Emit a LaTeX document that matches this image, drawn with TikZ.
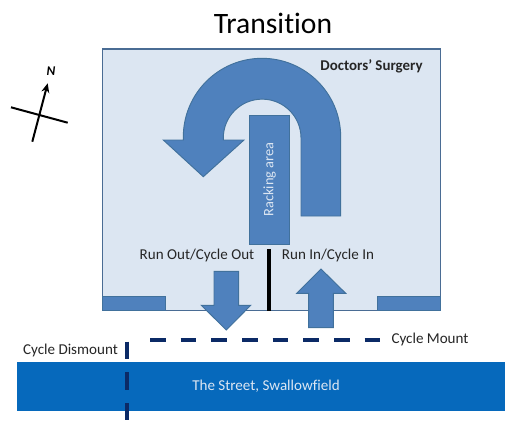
\documentclass[tikz,border=0pt]{standalone}
\usepackage{fontspec}
\setmainfont{Carlito}[Ligatures=NoCommon]
\usetikzlibrary{arrows.meta}
\definecolor{blockfill}{HTML}{4F81BD}
\definecolor{blockline}{HTML}{41719C}
\definecolor{roomfill}{HTML}{DCE6F2}
\definecolor{roomline}{HTML}{4A6C94}
\definecolor{streetblue}{HTML}{0669BC}
\definecolor{dashblue}{HTML}{0B2A66}
\definecolor{labeltext}{HTML}{262626}
\tikzset{
  block/.style={fill=blockfill,draw=blockline,line width=0.7pt,line join=miter},
  room/.style={fill=roomfill,draw=roomline,line width=1.1pt},
  label text/.style={font=\fontsize{11.3}{13}\selectfont,text=labeltext,inner sep=0pt},
  mount dash/.style={draw=dashblue,line width=2.8pt,dash pattern=on 11.7pt off 11.3pt},
  dismount dash/.style={draw=dashblue,line width=2.8pt,dash pattern=on 13pt off 10pt},
  compass/.style={draw=black,line width=1.5pt}
}
\begin{document}
\begin{tikzpicture}[x=0.75pt,y=-0.75pt]
\useasboundingbox[fill=white] (0,0) rectangle (505,425);
% title
\node[font=\fontsize{22.2}{26}\selectfont,text=black,inner sep=0pt] (title) at (273,23.5) {Transition};
% building
\draw[room] (102.7,49) rectangle (440.7,310.7);
\draw[block] (102.7,310.7) -- (102.7,296.3) -- (165,296.3) -- (165,310.7) -- cycle;
\draw[block] (377.7,310.7) -- (377.7,296.3) -- (440.7,296.3) -- (440.7,310.7) -- cycle;
\node[font=\fontsize{11.2}{13}\selectfont\bfseries,text=labeltext,inner sep=0pt] (surgery) at (371.5,66.5) {Doctors’ Surgery};
% U-turn arrow
\draw[block] (340.7,216) -- (340.7,137)
  arc[start angle=0,end angle=-180,x radius=78.7,y radius=78.7]
  -- (183.3,140) -- (163.3,140) -- (203.3,176.7) -- (244,140) -- (223.3,140) -- (223.3,138)
  arc[start angle=180,end angle=360,x radius=38.85,y radius=38.85]
  -- (301,216) -- cycle;
% racking
\node[block,minimum width=39.7*0.75pt,minimum height=128.7*0.75pt,inner sep=0pt] (rack) at (269.2,179.7) {};
\node[font=\fontsize{10.8}{12}\selectfont,text=roomfill,rotate=90,inner sep=0pt] (racklabel) at (269.5,179.5) {Racking area};
% divider
\coordinate (divtop) at (268.7,249.3);
\coordinate (divbot) at (268.7,311);
\draw[black,line width=3pt] (divtop) -- (divbot);
% run arrows
\draw[block] (214,271.3) -- (238.7,271.3) -- (238.7,305.3) -- (250.7,305.3) -- (226.3,330) -- (201.3,305.3) -- (214,305.3) -- cycle;
\draw[block] (308.7,327.7) -- (333.3,327.7) -- (333.3,293.3) -- (345.7,293.3) -- (321,269) -- (296.7,293.3) -- (308.7,293.3) -- cycle;
\node[label text] (runout) at (197,255.5) {Run Out/Cycle Out};
\node[label text] (runin) at (328,255.5) {Run In/Cycle In};
% street
\node[fill=streetblue,minimum width=488.3*0.75pt,minimum height=49*0.75pt,inner sep=0pt] (street) at (260.85,386.8) {};
\node[font=\fontsize{11.3}{13}\selectfont,text=roomfill,inner sep=0pt] (streetlabel) at (266,386.5) {The Street, Swallowfield};
% dashes
\coordinate (ms) at (150,339.7);
\coordinate (me) at (383,339.7);
\draw[mount dash] (ms) -- (me);
\coordinate (ds) at (126.7,341.7);
\coordinate (de) at (126.7,420.7);
\draw[dismount dash] (ds) -- (de);
\node[label text] (mount) at (430,339.5) {Cycle Mount};
\node[label text] (dismount) at (70.5,350.5) {Cycle Dismount};
% compass
\coordinate (ns) at (32.3,141.7);
\coordinate (nn) at (47.7,83.3);
\coordinate (ws) at (11,107.3);
\coordinate (es) at (67.7,122.7);
\draw[compass,-{Stealth[length=7pt,width=6pt]}] (ns) -- (nn);
\draw[compass] (ws) -- (es);
\node[font=\fontsize{10}{12}\selectfont\bfseries\itshape,text=black,inner sep=0pt] (north) at (51,71) {N};
\end{tikzpicture}
\end{document}
